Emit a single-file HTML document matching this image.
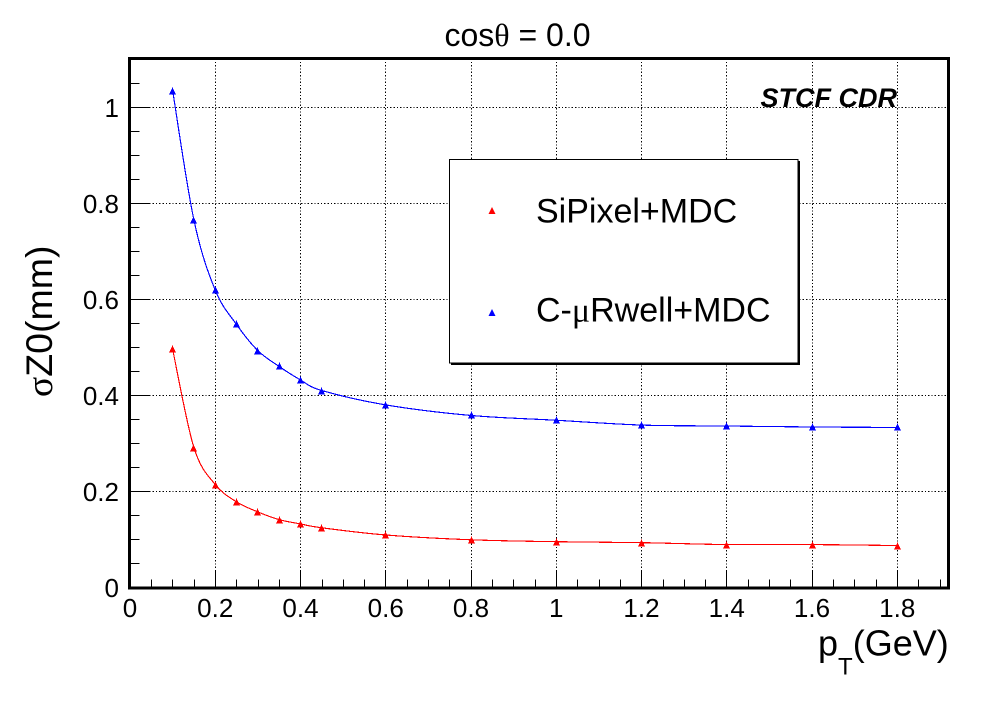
<!DOCTYPE html>
<html lang="en">
<head>
<meta charset="utf-8">
<title>cosθ = 0.0</title>
<style>
html,body{margin:0;padding:0;background:#fff;width:998px;height:726px;overflow:hidden}
svg{display:block}
text{font-family:"Liberation Sans",sans-serif;fill:#000}
.sym{font-family:"Liberation Serif",serif}
</style>
</head>
<body>
<svg id="chart" xmlns="http://www.w3.org/2000/svg" width="998" height="726" viewBox="0 0 998 726">
<g id="grid"></g>
<g id="ticks"></g>
<g id="series"></g>
<rect x="129.5" y="58.5" width="819" height="529.5" fill="none" stroke="#000" stroke-width="3" shape-rendering="crispEdges"/>
<g id="labels"></g>
<text x="517.5" y="46" font-size="32" text-anchor="middle">cos<tspan class="sym">θ</tspan> = 0.0</text>
<text x="760.5" y="107" font-size="27" font-weight="bold" font-style="italic">STCF CDR</text>
<g>
<rect x="451" y="161" width="349" height="204" fill="#000" shape-rendering="crispEdges"/>
<rect x="449.5" y="159.5" width="348.5" height="203.5" fill="#fff" stroke="#000" stroke-width="1" shape-rendering="crispEdges"/>
<polygon points="492,207 495.5,214 488.5,214" fill="#f00" shape-rendering="crispEdges"/>
<text x="536" y="222.5" font-size="34">SiPixel+MDC</text>
<polygon points="492,309 495.5,316 488.5,316" fill="#00f" shape-rendering="crispEdges"/>
<text x="536" y="321.5" font-size="34">C-<tspan class="sym">μ</tspan>Rwell+MDC</text>
</g>
<text x="818" y="655.5" font-size="36">p<tspan font-size="24" dy="19">T</tspan><tspan dy="-19">(GeV)</tspan></text>
<text transform="translate(52,397) rotate(-90)" font-size="37.5"><tspan class="sym">σ</tspan>Z0(mm)</text>
</svg>
<script>
const categories = [0.1, 0.15, 0.2, 0.25, 0.3, 0.35, 0.4, 0.45, 0.6, 0.8, 1.0, 1.2, 1.4, 1.6, 1.8];
const siPixelValues = [0.496, 0.291, 0.214, 0.178, 0.157, 0.141, 0.132, 0.124, 0.109, 0.099, 0.095, 0.093, 0.089, 0.089, 0.087];
const cuRwellValues = [1.035, 0.765, 0.619, 0.5475, 0.493, 0.46, 0.432, 0.41, 0.38, 0.358, 0.348, 0.338, 0.336, 0.334, 0.333];
const xTickLabels = ["0", "0.2", "0.4", "0.6", "0.8", "1", "1.2", "1.4", "1.6", "1.8"];
const yTickLabels = ["0", "0.2", "0.4", "0.6", "0.8", "1"];

const NS = "http://www.w3.org/2000/svg";
function xScale(v) { return 130 + v * 426.25; }
function yScale(v) { return 587.3 - v * 480; }
function make(tag, attrs, parent) {
  const el = document.createElementNS(NS, tag);
  for (const k in attrs) el.setAttribute(k, attrs[k]);
  parent.appendChild(el);
  return el;
}
const gridG = document.getElementById("grid");
const ticksG = document.getElementById("ticks");
const labelsG = document.getElementById("labels");
const seriesG = document.getElementById("series");
const plotL = 129.5, plotR = 948.5, plotT = 58.5, plotB = 588;

xTickLabels.forEach(function (t) {
  const v = parseFloat(t);
  const x = Math.round(xScale(v) - 0.3) + 0.5;
  if (v > 0) {
    const g = make("line", { x1: x, x2: x, y1: plotT, y2: plotB, stroke: "#000", "stroke-width": 1, "stroke-dasharray": "1.3 2", "shape-rendering": "crispEdges" }, gridG);
    
    
  }
  const lab = make("text", { x: xScale(v), y: 617, "font-size": 26, "text-anchor": "middle" }, labelsG);
  lab.textContent = t;
  
  
});
yTickLabels.forEach(function (t) {
  const v = parseFloat(t);
  const y = Math.round(yScale(v) - 0.3) + 0.5;
  if (v > 0) {
    const g = make("line", { x1: plotL, x2: plotR, y1: y, y2: y, stroke: "#000", "stroke-width": 1, "stroke-dasharray": "1.3 2", "shape-rendering": "crispEdges" }, gridG);
    
    
  }
  const lab = make("text", { x: 119, y: yScale(v) + 9.5, "font-size": 26, "text-anchor": "end" }, labelsG);
  lab.textContent = t;
  
  
});
for (let i = 1; i * 0.05 < 1.92; i++) {
  const x = Math.round(xScale(i * 0.05) - 0.3) + 0.5;
  const len = i % 4 === 0 ? 17 : 8.5;
  const tk = make("line", { x1: x, x2: x, y1: plotB, y2: plotB - len, stroke: "#000", "stroke-width": 1, "shape-rendering": "crispEdges" }, ticksG);
  
  
}
for (let i = 1; i * 0.05 < 1.1; i++) {
  const y = Math.round(yScale(i * 0.05) - 0.3) + 0.5;
  const len = i % 4 === 0 ? 20 : 10;
  const tk = make("line", { x1: plotL, x2: plotL + len, y1: y, y2: y, stroke: "#000", "stroke-width": 1, "shape-rendering": "crispEdges" }, ticksG);
  
  
}
function smoothPath(pts) {
  let d = "M" + pts[0][0] + " " + pts[0][1];
  for (let i = 0; i < pts.length - 1; i++) {
    const p0 = pts[Math.max(i - 1, 0)], p1 = pts[i], p2 = pts[i + 1], p3 = pts[Math.min(i + 2, pts.length - 1)];
    const c1x = p1[0] + (p2[0] - p0[0]) / 6, c1y = p1[1] + (p2[1] - p0[1]) / 6;
    const c2x = p2[0] - (p3[0] - p1[0]) / 6, c2y = p2[1] - (p3[1] - p1[1]) / 6;
    d += " C" + c1x + " " + c1y + " " + c2x + " " + c2y + " " + p2[0] + " " + p2[1];
  }
  return d;
}
function triangleShape(cx, cy) {
  return [[0.5,-3.5],[0.5,-1.5],[1.5,-1.5],[1.5,0.5],[2.5,0.5],[2.5,2.5],[3.5,2.5],[3.5,3.5],[-3.5,3.5],[-3.5,2.5],[-2.5,2.5],[-2.5,0.5],[-1.5,0.5],[-1.5,-1.5],[-0.5,-1.5],[-0.5,-3.5]]
    .map(function (o) { return (cx + o[0]) + "," + (cy + o[1]); }).join(" ");
}
function drawSeries(values, color, name) {
  const pts = categories.map(function (c, i) { return [xScale(c), yScale(values[i])]; });
  const line = make("path", { d: smoothPath(pts), fill: "none", stroke: color, "stroke-width": 1.15, "shape-rendering": "crispEdges" }, seriesG);
  
  
  pts.forEach(function (p) {
    const cx = Math.floor(p[0]) + 0.5, cy = Math.round(p[1]);
    const mark = make("polygon", { points: triangleShape(cx, cy), fill: color, "shape-rendering": "crispEdges" }, seriesG);
    
    
  });
}
drawSeries(siPixelValues, "#f00", "sipixel-mdc");
drawSeries(cuRwellValues, "#00f", "curwell-mdc");
</script>
</body>
</html>
